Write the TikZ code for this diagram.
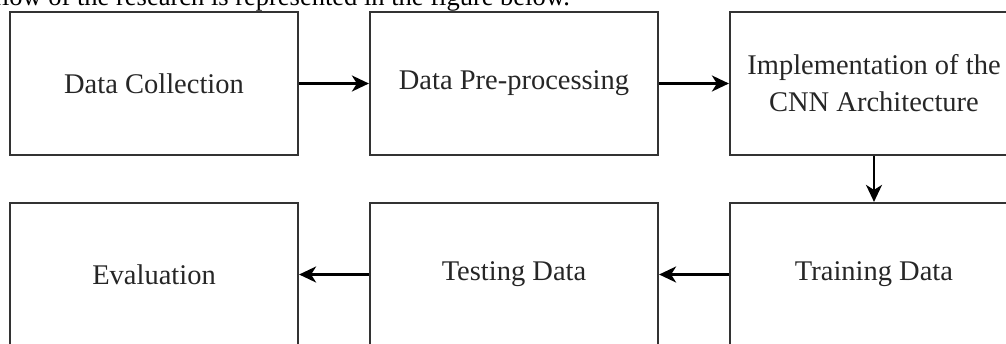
\documentclass[tikz,border=0pt]{standalone}
\usepackage{fontspec}
\setmainfont{Liberation Serif}
\usetikzlibrary{arrows.meta}
\begin{document}
\begin{tikzpicture}[x=1pt,y=-1pt,
  flowbox/.style={draw=black!80, line width=2.2pt, minimum width=288pt, minimum height=143pt,
    inner sep=0pt, align=center, font=\fontsize{28.5}{37}\selectfont, text=black!85},
  flowarrow/.style={draw=black, line width=2.2pt, -{Stealth[length=17pt,width=16pt,inset=5pt]}}]
\useasboundingbox (0,0) rectangle (1006,343);
\node[anchor=base west, inner sep=0pt, font=\fontsize{26.5}{30}\selectfont] (cap) at (-7,5) {flow of the research is represented in the figure below.};
\node[flowbox] (b1) at (154,83.5) {Data Collection};
\node[flowbox] (b2) at (514,83.5) {Data Pre-processing};
\node[flowbox] (b3) at (874,83.5) {Implementation of the\\CNN Architecture};
\node[flowbox] (b4) at (874,274.5) {Training Data};
\node[flowbox] (b5) at (514,274.5) {Testing Data};
\node[flowbox] (b6) at (154,274.5) {Evaluation};
\draw[flowarrow] (b1.east) -- (b2.west);
\draw[flowarrow] (b2.east) -- (b3.west);
\draw[flowarrow] (b3.south) -- (b4.north);
\draw[flowarrow] (b4.west) -- (b5.east);
\draw[flowarrow] (b5.west) -- (b6.east);
\end{tikzpicture}
\end{document}
